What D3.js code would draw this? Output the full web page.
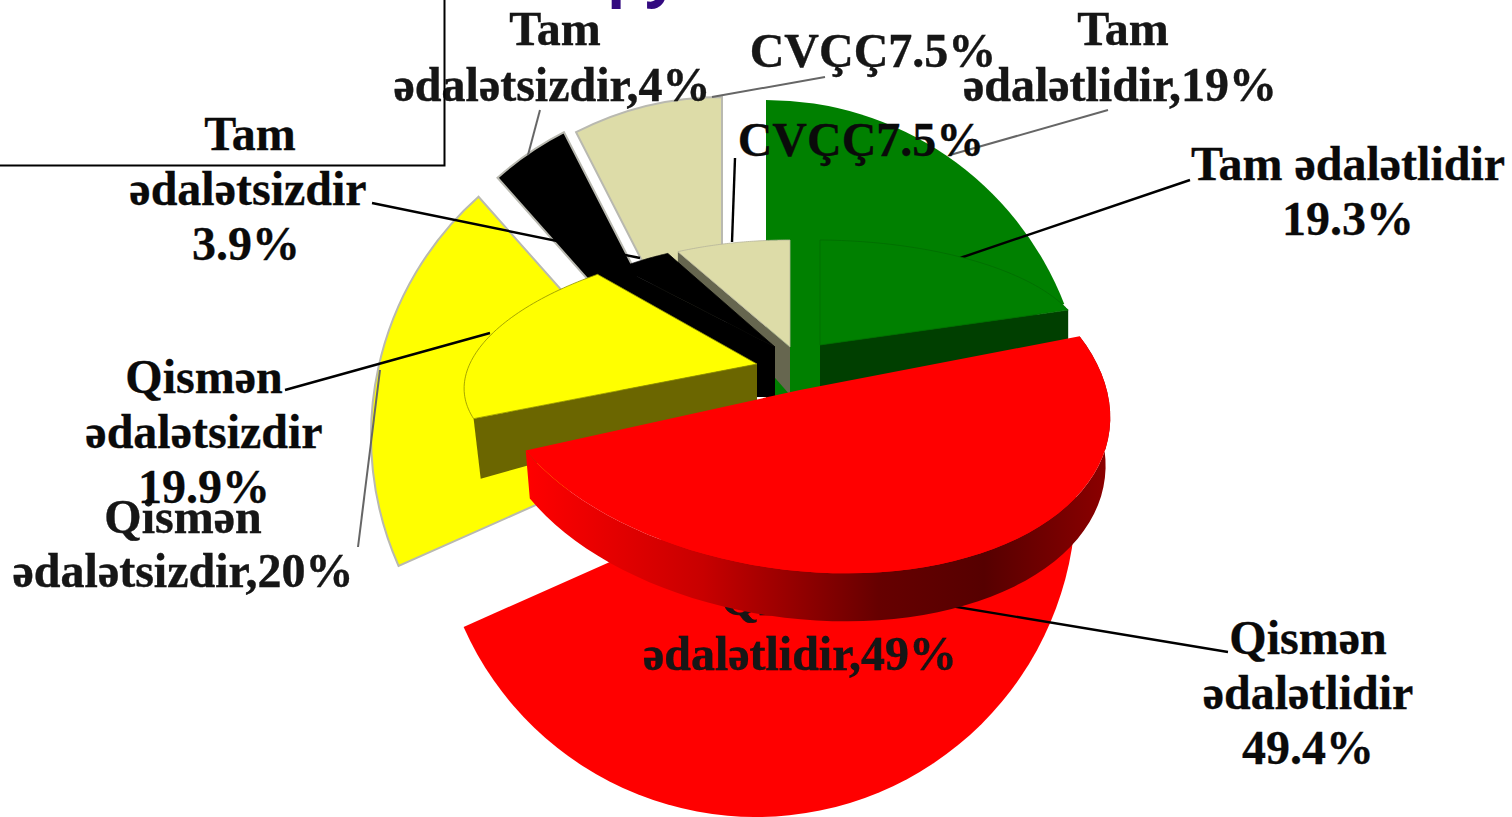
<!DOCTYPE html>
<html><head><meta charset="utf-8">
<script src="https://cdn.jsdelivr.net/npm/d3@7"></script>
<style>html,body{margin:0;padding:0;background:#fff;overflow:hidden}svg{display:block}text{font-family:"Liberation Serif",serif;font-weight:700;text-anchor:middle}</style>
</head><body><svg id="c" width="1512" height="817"></svg>
<script>
// ---- data ----
const categories = ["Tam ədalətlidir","Qismən ədalətlidir","Qismən ədalətsizdir","Tam ədalətsizdir","CVÇÇ"];
const backValues = [19,49,20,4,7.5];
const frontValues = [19.3,49.4,19.9,3.9,7.5];
const colors = ["#008000","#ff0000","#ffff00","#000000","#dddca8"];
const wallColors = ["#003f00","url(#redWall)","#6b6600","#000000","#66664f"];
const edgeColors = ["#006c00","none","#8f8f00","#000000","#b5b49a"];
const titleFragment = "py";

// ---- layout (not data) ----
const W=1512,H=817,R=320;
const backCentres=[[766,420],[756,497],[691,436],[710,417],[722,417]];
const frontGeom=[
 {c:[820,345],u:[265,2],v:[0,105],ta:44,tr:32,sh:0,face:"end"},
 {c:[800,390],u:[309,11],v:[28,183],ta:50,tr:48,sh:.015,face:"rim"},
 {c:[757,364],u:[290,-7],v:[-41,125],ta:38,tr:60,sh:.025,face:"start"},
 {c:[775,347],u:[236,0],v:[0,105],ta:50,tr:130,sh:0,face:"start"},
 {c:[790,347],u:[247,0],v:[0,107],ta:48,tr:15,sh:0,face:"start"}
];
const svg=d3.select("#c");
const defs=svg.append("defs");
const g=defs.append("linearGradient").attr("id","redWall").attr("gradientUnits","userSpaceOnUse")
  .attr("x1",527).attr("x2",1113).attr("y1",0).attr("y2",0);
[[0,"#ff0000"],[.3,"#c80000"],[.6,"#660000"],[.78,"#560000"],[1,"#8e0000"]].forEach(s=>g.append("stop").attr("offset",s[0]).attr("stop-color",s[1]));
defs.append("filter").attr("id","soft").append("feGaussianBlur").attr("stdDeviation",0.6);

const pie=d3.pie().sort(null).value(d=>d);
const arc=d3.arc().innerRadius(0).outerRadius(R);

// back pie
const back=svg.append("g");
back.selectAll("path").data(pie(backValues)).join("path")
  .attr("d",arc)
  .attr("transform",(d,i)=>`translate(${backCentres[i]})`)
  .attr("fill",(d,i)=>colors[i])
  .attr("stroke",(d,i)=>i<2?"none":"#b9b9b0").attr("stroke-width",2);

// back leader lines
const leaderBack=[[[712,97],[825,77]],[[540,110],[528,155]],[[1108,110],[950,155]],[[358,547],[380,370]]];
const line=d3.line();
svg.append("g").selectAll("path").data(leaderBack).join("path").attr("d",line)
  .attr("fill","none").attr("stroke","#666").attr("stroke-width",2);

// back labels
const backLabels=[
 ["Tam",555,45],["ədalətsizdir,"+backValues[3]+"%",552,101],
 [categories[4]+backValues[4]+"%",873,67],
 ["Tam",1123,45],["ədalətlidir,"+backValues[0]+"%",1120,101],
 ["Qismən",183,533],["ədalətsizdir,"+backValues[2]+"%",183,587],
 ["Qismən",800,615],["ədalətlidir,"+backValues[1]+"%",800,670]];
svg.append("g").attr("filter","url(#soft)").selectAll("text").data(backLabels).join("text")
  .text(d=>d[0]).attr("x",d=>d[1]).attr("y",d=>d[2]).attr("font-size",48).attr("fill","#141414").attr("stroke","#141414").attr("stroke-width",.4);

// box and title fragment
svg.append("path").attr("d","M0,165.5H444.5V0").attr("fill","none").attr("stroke","#000").attr("stroke-width",2);
svg.append("text").text(titleFragment).attr("x",643).attr("y",-6).attr("font-size",60)
  .style("font-family","'Open Sans',sans-serif").attr("fill","#330a80");

// front leader lines
const leaderFront=[[[1190,180],[960,258]],[[372,203],[640,258]],[[285,390],[490,333]],[[1228,652],[945,605]],[[735,158],[732,242]]];
svg.append("g").selectAll("path").data(leaderFront).join("path").attr("d",line)
  .attr("fill","none").attr("stroke","#000").attr("stroke-width",2.4);

// front projected pie
function proj(i,a){const p=frontGeom[i],X=Math.sin(a),Y=-Math.cos(a);
  return [p.c[0]+X*p.u[0]+Y*p.v[0],p.c[1]+X*p.u[1]+Y*p.v[1]];}
function rim(i,d){return d3.range(0,61).map(k=>proj(i,d.startAngle+(d.endAngle-d.startAngle)*k/60));}
function sliceTop(i,d){return line([frontGeom[i].c,...rim(i,d)])+"Z";}
function sliceWall(i,d){
  const p=frontGeom[i],r=rim(i,d);
  const drop=q=>[q[0]+(p.c[0]-q[0])*p.sh,q[1]+p.tr];
  const apexDown=[p.c[0],p.c[1]+p.ta];
  if(p.face==="rim") return line([...r,...r.map(drop).reverse()])+"Z";
  const e=p.face==="start"?r[0]:r[r.length-1];
  return line([p.c,e,drop(e),apexDown])+"Z";
}
const fs=pie(frontValues);
const drawOrder=[4,3,2,0,1];
const front=svg.append("g");
drawOrder.forEach(i=>{
  front.append("path").attr("d",sliceWall(i,fs[i])).attr("fill",wallColors[i]);
  front.append("path").attr("d",sliceTop(i,fs[i])).attr("fill",colors[i]).attr("stroke",edgeColors[i]).attr("stroke-width",.8);
});

// front labels
const frontLabels=[
 ["Tam",250,150],["ədalətsizdir",248,205],[frontValues[3]+"%",246,260],
 ["Tam ədalətlidir",1348,180],[frontValues[0]+"%",1348,235],
 ["Qismən",204,393],["ədalətsizdir",204,448],[frontValues[2]+"%",204,503],
 ["Qismən",1308,654],["ədalətlidir",1308,709],[frontValues[1]+"%",1308,764],
 [categories[4]+frontValues[4]+"%",861,156]];
svg.append("g").selectAll("text").data(frontLabels).join("text")
  .text(d=>d[0]).attr("x",d=>d[1]).attr("y",d=>d[2]).attr("font-size",48).attr("fill","#0a0a0a").attr("stroke","#0a0a0a").attr("stroke-width",.3);
</script></body></html>
